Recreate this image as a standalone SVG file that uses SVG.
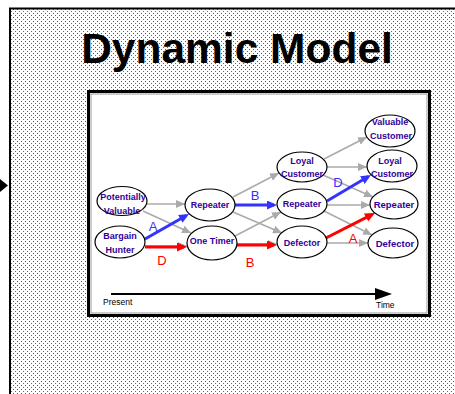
<svg xmlns="http://www.w3.org/2000/svg" width="455" height="394" viewBox="0 0 455 394">
<defs>
<pattern id="dots" width="4" height="4" patternUnits="userSpaceOnUse">
<rect width="4" height="4" fill="#fff"/>
<rect x="1" y="1" width="1" height="1" fill="#555"/>
<rect x="3" y="3" width="1" height="1" fill="#666"/>
</pattern>
<marker id="ag" viewBox="0 0 9 8" refX="9" refY="4" markerWidth="9" markerHeight="8" markerUnits="userSpaceOnUse" orient="auto"><path d="M0,0 L9,4 L0,8 z" fill="#aaaaaa"/></marker>
<marker id="ab" viewBox="0 0 10 9" refX="7" refY="4.5" markerWidth="10" markerHeight="9" markerUnits="userSpaceOnUse" orient="auto"><path d="M0,0 L10,4.5 L0,9 z" fill="#3333ff"/></marker>
<marker id="ar" viewBox="0 0 10 9" refX="7" refY="4.5" markerWidth="10" markerHeight="9" markerUnits="userSpaceOnUse" orient="auto"><path d="M0,0 L10,4.5 L0,9 z" fill="#ff0000"/></marker>
<style>
.n ellipse{fill:#fff;stroke:#000;stroke-width:1.2}
.n text{font-family:"Liberation Sans",Arial,sans-serif;font-weight:bold;font-size:9px;fill:#330099;text-anchor:middle}
.g{stroke:#aaaaaa;stroke-width:1.5;fill:none;marker-end:url(#ag)}
.b{stroke:#3333ff;stroke-width:3;fill:none;marker-end:url(#ab)}
.r{stroke:#ff0000;stroke-width:3;fill:none;marker-end:url(#ar)}
.lb{font-family:"Liberation Sans",Arial,sans-serif;font-size:13px;text-anchor:middle;fill:#3333ff}
.lr{font-family:"Liberation Sans",Arial,sans-serif;font-size:13px;text-anchor:middle;fill:#ff0000}
</style>
</defs>
<rect width="455" height="394" fill="#fff"/>
<rect x="10" y="8.5" width="445" height="386" fill="url(#dots)"/>
<line x1="10" y1="8" x2="10" y2="394" stroke="#000" stroke-width="2"/>
<line x1="9" y1="8.5" x2="455" y2="8.5" stroke="#000" stroke-width="2"/>
<path d="M0,179 L8,185.5 L0,192 z" fill="#000"/>
<text x="237" y="63" font-family="'Liberation Sans',Arial,sans-serif" font-weight="bold" font-size="42.5" text-anchor="middle" fill="#000">Dynamic Model</text>
<g id="panel">
<rect x="88.5" y="91.5" width="341" height="224" fill="#fff" stroke="#000" stroke-width="3"/>
<rect x="91" y="94" width="336" height="219" fill="none" stroke="#999" stroke-width="1"/>
</g>
<g id="connectors">
<path class="g" d="M147,204 L185,204"/>
<path class="g" d="M143,211 L191,233"/>
<path class="g" d="M145,246 L187,246"/>
<path class="g" d="M233,197 L279,173"/>
<path class="g" d="M233,212 L282,233"/>
<path class="g" d="M235,236 L281,212"/>
<path class="g" d="M237,244 L277,244"/>
<path class="g" d="M324,159 L367,137"/>
<path class="g" d="M327,167 L367,167"/>
<path class="g" d="M323,175 L373,197"/>
<path class="g" d="M327,205 L370,205"/>
<path class="g" d="M324,211 L372,235"/>
<path class="g" d="M327,243 L368,243"/>
<path class="b" d="M145,239 L186.4,215.5"/>
<path class="b" d="M235,205 L274,205"/>
<path class="b" d="M327,201 L368.4,176.5"/>
<path class="r" d="M145,247 L184,247"/>
<path class="r" d="M237,245 L274,245"/>
<path class="r" d="M326,238 L372.3,214.4"/>
<line x1="111" y1="294" x2="378" y2="294" stroke="#000" stroke-width="2"/>
<path d="M375,288 L392,294 L375,300 z" fill="#000"/>
</g>
<g id="labels">
<text class="lb" x="153" y="231">A</text>
<text class="lr" x="162" y="265">D</text>
<text class="lb" x="255" y="200">B</text>
<text class="lr" x="250" y="267">B</text>
<text class="lb" x="338" y="187">D</text>
<text class="lr" x="353" y="243">A</text>
<text x="103" y="305" font-family="'Liberation Sans',Arial,sans-serif" font-size="8.5" fill="#000">Present</text>
<text x="376" y="308" font-family="'Liberation Sans',Arial,sans-serif" font-size="8.5" fill="#000">Time</text>
</g>
<g id="n-pv" class="n"><ellipse cx="122" cy="201" rx="25" ry="14.5"/><text x="123" y="200">Potentially</text><text x="122" y="214">Valuable</text></g>
<g id="n-bh" class="n"><ellipse cx="120" cy="242" rx="25" ry="16"/><text x="120" y="239">Bargain</text><text x="120" y="253">Hunter</text></g>
<g id="n-rep2" class="n"><ellipse cx="210" cy="205" rx="25" ry="16"/><text x="210" y="208">Repeater</text></g>
<g id="n-ot" class="n"><ellipse cx="212" cy="243" rx="25" ry="17"/><text x="212" y="244">One Timer</text></g>
<g id="n-loy3" class="n"><ellipse cx="302" cy="167" rx="25" ry="15"/><text x="302" y="163.5">Loyal</text><text x="302" y="177">Customer</text></g>
<g id="n-rep3" class="n"><ellipse cx="302" cy="204" rx="25" ry="15"/><text x="302" y="207">Repeater</text></g>
<g id="n-def3" class="n"><ellipse cx="302" cy="242" rx="25" ry="16"/><text x="302" y="246">Defector</text></g>
<g id="n-val4" class="n"><ellipse cx="390" cy="131" rx="25" ry="16"/><text x="390" y="125">Valuable</text><text x="391" y="139">Customer</text></g>
<g id="n-loy4" class="n"><ellipse cx="392" cy="166" rx="25" ry="16"/><text x="390" y="164">Loyal</text><text x="392" y="177">Customer</text></g>
<g id="n-rep4" class="n"><ellipse cx="394" cy="204" rx="24" ry="15"/><text x="394" y="207.5" style="font-size:9.5px">Repeater</text></g>
<g id="n-def4" class="n"><ellipse cx="393" cy="243" rx="25" ry="15"/><text x="395" y="246.5" style="font-size:9.5px">Defector</text></g>
</svg>
